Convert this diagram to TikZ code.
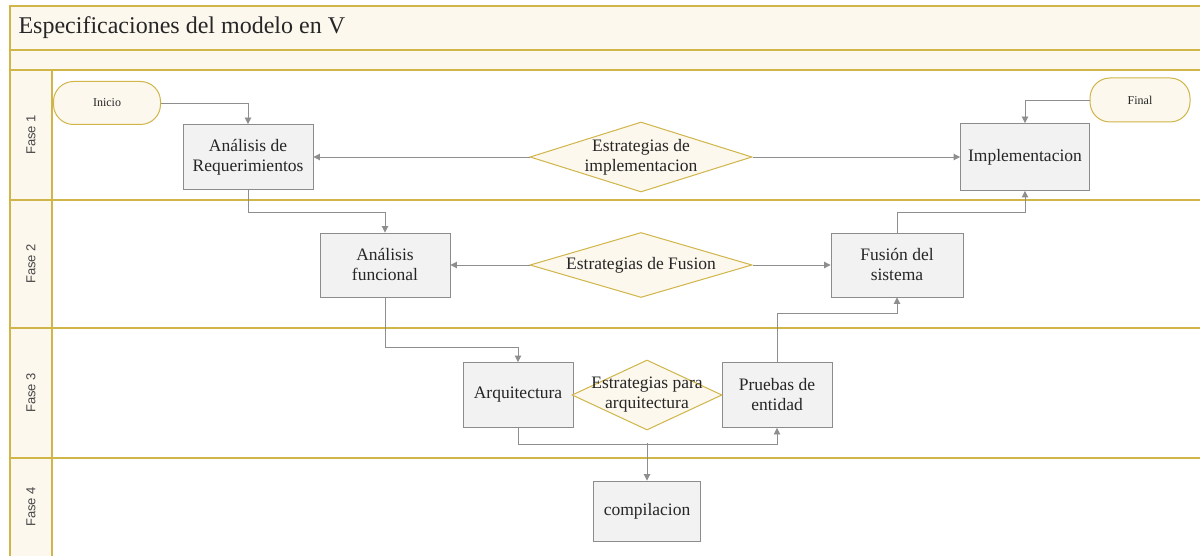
\documentclass[tikz,border=0pt]{standalone}
\usepackage{fontspec}
\setmainfont{Liberation Serif}
\newfontfamily\lanefont{Liberation Sans}
\usetikzlibrary{shapes.geometric,arrows.meta}
\definecolor{gold}{HTML}{D0B548}
\definecolor{cream}{HTML}{FDF8EE}
\definecolor{boxfill}{HTML}{F2F2F2}
\definecolor{boxline}{HTML}{8C8C8C}
\definecolor{connline}{HTML}{8E8E8E}
\definecolor{ink}{HTML}{262626}

\begin{document}
\begin{tikzpicture}[x=1pt,y=-1pt,
  lane/.style={draw=gold,line width=1.5pt},
  procbox/.style={draw=boxline,fill=boxfill,line width=0.9pt,minimum width=130pt,
    minimum height=65pt,align=center,font=\fontsize{17.5}{20}\selectfont,text=ink,inner sep=2pt},
  termbox/.style={draw=gold,fill=cream,line width=1pt,rounded corners=20pt,
    minimum width=107pt,minimum height=43pt,font=\fontsize{12}{14}\selectfont,text=ink},
  decision/.style={diamond,draw=gold,fill=cream,line width=1pt,inner sep=0pt},
  dtext/.style={align=center,font=\fontsize{17.5}{20}\selectfont,text=ink,inner sep=0pt},
  lanelabel/.style={rotate=90,font=\lanefont\fontsize{13}{15}\selectfont,text=ink!85},
  conn/.style={draw=connline,line width=0.9pt,-{Triangle[width=6.5pt,length=6.5pt]}},
  link/.style={draw=connline,line width=0.9pt}
]
\useasboundingbox (0,0) rectangle (1200,556);

% pool background, header and lane label column
\fill[white] (0,0) rectangle (1200,556);
\fill[cream] (10,6) rectangle (1200,70);
\fill[cream] (10,70) rectangle (52,556);

% pool and lane borders
\draw[lane] (10,556) -- (10,6) -- (1200,6);
\draw[lane] (10,50) -- (1200,50);
\draw[lane] (10,70) -- (1200,70);
\draw[lane] (52,70) -- (52,556);
\draw[lane] (10,200) -- (1200,200);
\draw[lane] (10,328) -- (1200,328);
\draw[lane] (10,458) -- (1200,458);

% title and lane names
\node[anchor=west,font=\fontsize{24}{27}\selectfont,text=ink] (title) at (15,28) {Especificaciones del modelo en V};
\node[lanelabel] (f1) at (31,135) {Fase 1};
\node[lanelabel] (f2) at (31,264) {Fase 2};
\node[lanelabel] (f3) at (31,393) {Fase 3};
\node[lanelabel] (f4) at (31,507) {Fase 4};

% start / end
\node[termbox] (ini) at (107,103) {Inicio};
\node[termbox,minimum width=100pt,minimum height=44pt] (fin) at (1140,100) {Final};

% Fase 1
\node[procbox] (ar) at (248,157) {Análisis de\\Requerimientos};
\node[procbox,minimum width=129pt,minimum height=67pt] (impl) at (1025,157) {Implementacion};
\node[decision,minimum width=222pt,minimum height=70pt] (d1) at (641,157) {};
\node[dtext] (d1t) at (d1) {Estrategias de\\implementacion};

% Fase 2
\node[procbox,minimum height=64pt] (af) at (385,265) {Análisis\\funcional};
\node[procbox,minimum width=132pt,minimum height=64pt] (fus) at (897,265) {Fusión del\\sistema};
\node[decision,minimum width=222pt,minimum height=65pt] (d2) at (641,265) {};
\node[dtext] (d2t) at (d2) {Estrategias de Fusion};

% Fase 3
\node[procbox,minimum width=110pt] (arq) at (518,395) {Arquitectura};
\node[procbox,minimum width=110pt] (pe) at (777,395) {Pruebas de\\entidad};
\node[decision,minimum width=150pt,minimum height=70pt] (d3) at (647,395) {};
\node[dtext] (d3t) at (d3) {Estrategias para\\arquitectura};

% Fase 4
\node[procbox,minimum width=107pt,minimum height=60pt] (comp) at (647,511) {compilacion};

% connectors
\draw[conn] (ini.east) -| (ar.north);
\draw[conn] (fin.west) -| (impl.north);
\draw[conn] (d1.west) -- (ar.east);
\draw[conn] (d1.east) -- (impl.west);
\draw[conn] (ar.south) -- ++(0,23) -| (af.north);
\draw[conn] (fus.north) -- ++(0,-20) -| (impl.south);
\draw[conn] (d2.west) -- (af.east);
\draw[conn] (d2.east) -- (fus.west);
\draw[conn] (af.south) -- ++(0,50) -| (arq.north);
\draw[conn] (pe.north) -- ++(0,-49) -| (fus.south);
\draw[conn] (arq.south) -- ++(0,16) -| (pe.south);
\coordinate (split) at (comp.north |- 0,443);
\draw[conn] (split) -- (comp.north);
\end{tikzpicture}
\end{document}
